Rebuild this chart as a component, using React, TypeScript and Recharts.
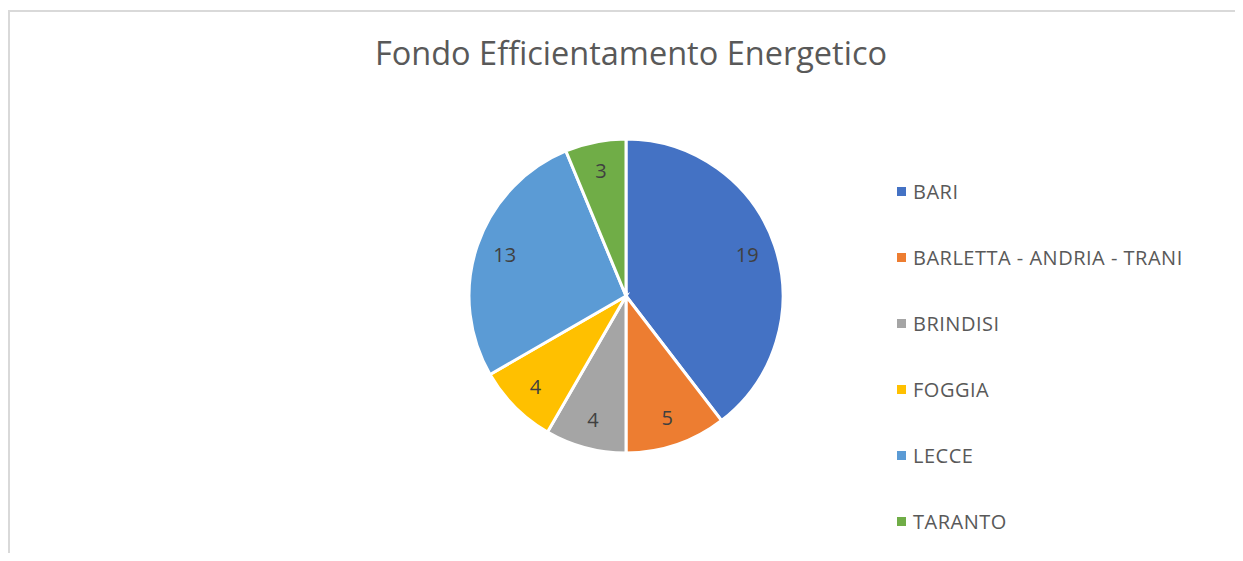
import { PieChart, Pie, Cell, Legend } from 'recharts';

// Provinces and their counts
const provinces = ['BARI', 'BARLETTA - ANDRIA - TRANI', 'BRINDISI', 'FOGGIA', 'LECCE', 'TARANTO'];
const counts = [19, 5, 4, 4, 13, 3];
const sliceColors = ['#4472c4', '#ed7d31', '#a5a5a5', '#ffc000', '#5b9bd5', '#70ad47'];

const chartTitle = 'Fondo Efficientamento Energetico';

const pieData = provinces.map((name, i) => ({ name, value: counts[i] }));

const FONT = '"Open Sans", "Liberation Sans", sans-serif';
const RADIAN = Math.PI / 180;

const renderLabel = ({ cx, cy, midAngle, value }: any) => {
  const r = 128;
  const x = cx + r * Math.cos(-midAngle * RADIAN);
  const y = cy + r * Math.sin(-midAngle * RADIAN);
  return (
    <text x={x} y={y} fill="#404040" fontSize={20} fontFamily={FONT} textAnchor="middle" dominantBaseline="central">
      {value}
    </text>
  );
};

const LegendContent = () => (
  <div style={{ fontFamily: FONT }}>
    {pieData.map((d, i) => (
      <div key={d.name} style={{ height: 66, display: 'flex', alignItems: 'center' }}>
        <span style={{ width: 9, height: 9, background: sliceColors[i], display: 'inline-block', marginRight: 7 }} />
        <span style={{ fontSize: 20, letterSpacing: 0.5, color: '#595959' }}>{d.name}</span>
      </div>
    ))}
  </div>
);

export default function App() {
  return (
    <div style={{ position: 'relative', width: 1235, height: 553, marginRight: -8, marginBottom: -8, overflow: 'hidden', background: '#fff' }}>
      {/* chart area frame, cut off at right and bottom */}
      <div style={{ position: 'absolute', left: 0, top: 2, width: 1400, height: 700, border: '2px solid #d9d9d9', boxSizing: 'border-box' }} />
      <div style={{ position: 'absolute', left: 0, top: 22, width: 1246, textAlign: 'center', fontFamily: FONT, fontSize: 32.5, color: '#595959' }}>
        {chartTitle}
      </div>
      <div style={{ position: 'absolute', left: 0, top: 0 }}>
        <PieChart width={1235} height={553}>
          <Pie
            data={pieData}
            dataKey="value"
            nameKey="name"
            cx={613}
            cy={283}
            outerRadius={157}
            startAngle={90}
            endAngle={-270}
            stroke="#ffffff"
            strokeWidth={3}
            label={renderLabel}
            labelLine={false}
            isAnimationActive={false}
          >
            {pieData.map((d, i) => (
              <Cell key={d.name} fill={sliceColors[i]} />
            ))}
          </Pie>
          <Legend
            layout="vertical"
            content={<LegendContent />}
            wrapperStyle={{ position: 'absolute', left: 889, top: 150, width: 330 }}
          />
        </PieChart>
      </div>
    </div>
  );
}
